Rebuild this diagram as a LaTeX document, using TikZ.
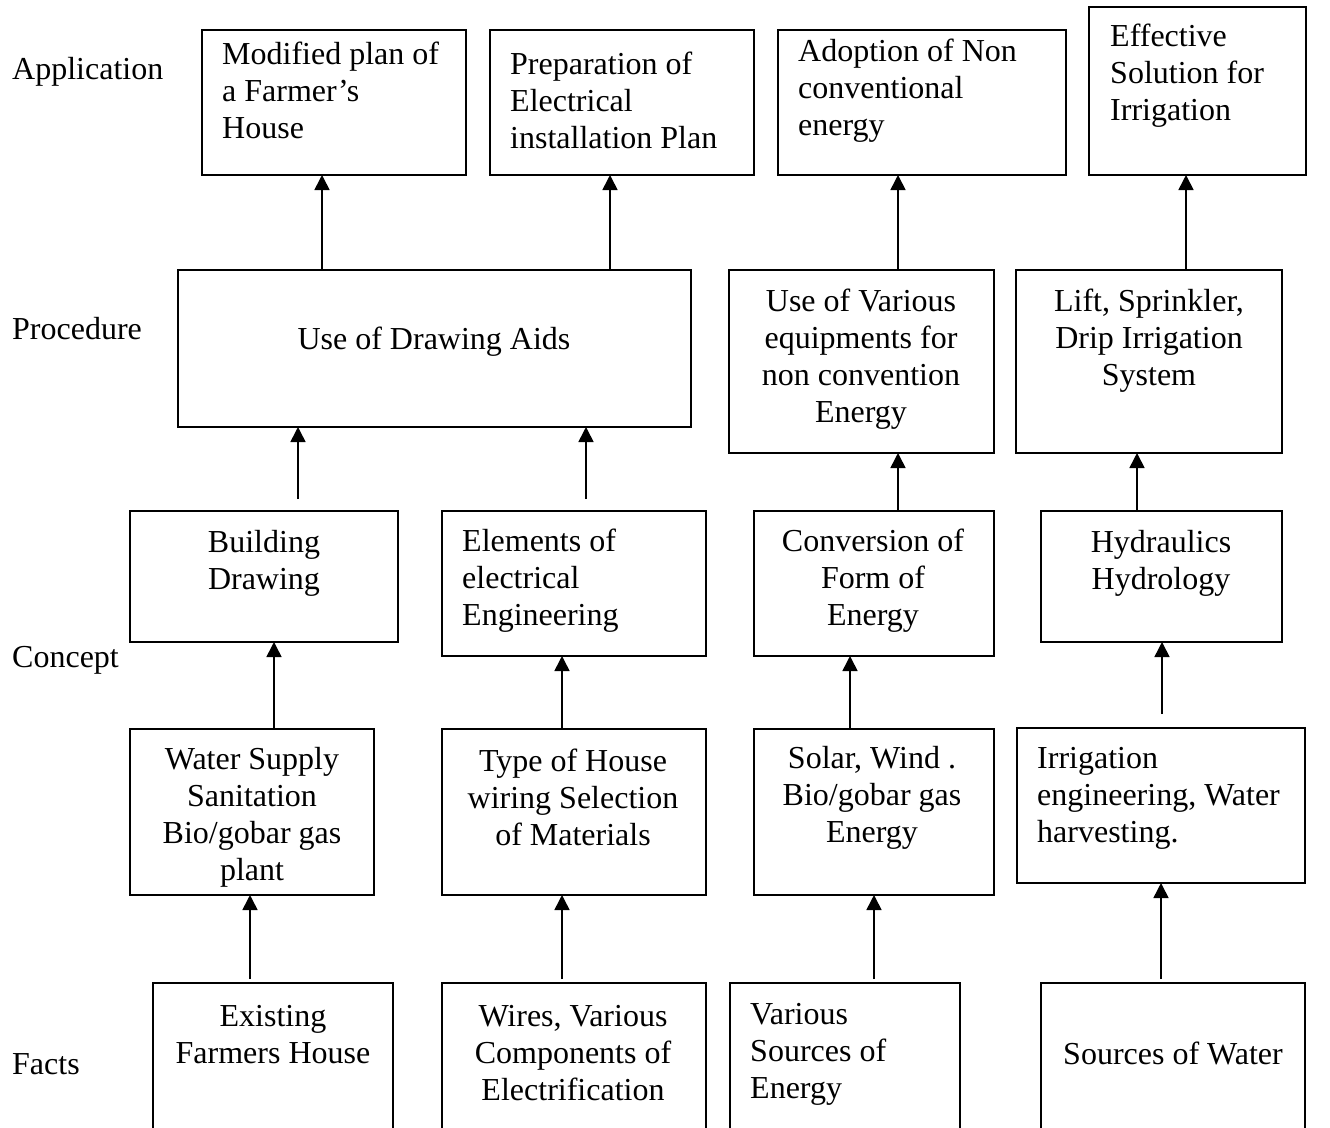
\documentclass[tikz,border=0pt]{standalone}
\usepackage{fontspec}
\setmainfont{Liberation Serif}
\usetikzlibrary{arrows.meta}
\begin{document}
\begin{tikzpicture}[x=1pt,y=-1pt,
  box/.style={draw,line width=1.7pt,inner sep=0pt,outer sep=0pt,anchor=north west},
  txt/.style={inner sep=0pt,yshift=-2pt,font=\fontsize{32}{37}\selectfont},
  ctxt/.style={txt,align=center},
  ltxt/.style={txt,align=left,anchor=west},
  arr/.style={line width=1.6pt,-{Triangle[width=15pt,length=15pt]}}]
\useasboundingbox (0,0) rectangle (1330,1127);
\clip (0,0) rectangle (1330,1127);
% row labels
\node[txt,anchor=west] (lapp) at (12,70) {Application};
\node[txt,anchor=west] (lpro) at (12,327) {Procedure};
\node[txt,anchor=west] (lcon) at (12,658) {Concept};
\node[txt,anchor=west] (lfac) at (12,1062) {Facts};
% application
\node[box,minimum width=264pt,minimum height=145pt] (a1) at (202,30) {};
\node[box,minimum width=264pt,minimum height=145pt] (a2) at (490,30) {};
\node[box,minimum width=288pt,minimum height=145pt] (a3) at (778,30) {};
\node[box,minimum width=217pt,minimum height=168pt] (a4) at (1089,7) {};
\node[ltxt] (a1t) at (222,88) {Modified plan of\\a Farmer’s\\House};
\node[ltxt] (a2t) at (510,98) {Preparation of\\Electrical\\installation Plan};
\node[ltxt] (a3t) at (798,89) {Adoption of Non\\conventional\\energy};
\node[ltxt] (a4t) at (1110,74) {Effective\\Solution for\\Irrigation};
% procedure
\node[box,minimum width=513pt,minimum height=157pt] (p1) at (178,270) {};
\node[box,minimum width=265pt,minimum height=183pt] (p2) at (729,270) {};
\node[box,minimum width=266pt,minimum height=183pt] (p3) at (1016,270) {};
\node[ctxt] (p1t) at (434,340) {Use of Drawing Aids};
\node[ctxt] (p2t) at (861,357) {Use of Various\\equipments for\\non convention\\Energy};
\node[ctxt] (p3t) at (1149,339) {Lift, Sprinkler,\\Drip Irrigation\\System};
% concept
\node[box,minimum width=268pt,minimum height=131pt] (c1) at (130,511) {};
\node[box,minimum width=264pt,minimum height=145pt] (c2) at (442,511) {};
\node[box,minimum width=240pt,minimum height=145pt] (c3) at (754,511) {};
\node[box,minimum width=241pt,minimum height=131pt] (c4) at (1041,511) {};
\node[ctxt] (c1t) at (264,561) {Building\\Drawing};
\node[ltxt] (c2t) at (462,579) {Elements of\\electrical\\Engineering};
\node[ctxt] (c3t) at (873,579) {Conversion of\\Form of\\Energy};
\node[ctxt] (c4t) at (1161,561) {Hydraulics\\Hydrology};
% middle
\node[box,minimum width=244pt,minimum height=166pt] (m1) at (130,729) {};
\node[box,minimum width=264pt,minimum height=166pt] (m2) at (442,729) {};
\node[box,minimum width=240pt,minimum height=166pt] (m3) at (754,729) {};
\node[box,minimum width=288pt,minimum height=155pt] (m4) at (1017,728) {};
\node[ctxt] (m1t) at (252,815) {Water Supply\\Sanitation\\Bio/gobar gas\\plant};
\node[ctxt] (m2t) at (573,795) {Type of House\\wiring Selection\\of Materials};
\node[ctxt] (m3t) at (872,796) {Solar, Wind .\\Bio/gobar gas\\Energy};
\node[ltxt] (m4t) at (1037,796) {Irrigation\\engineering, Water\\harvesting.};
% facts
\node[box,minimum width=240pt,minimum height=170pt] (f1) at (153,983) {};
\node[box,minimum width=264pt,minimum height=170pt] (f2) at (442,983) {};
\node[box,minimum width=230pt,minimum height=170pt] (f3) at (730,983) {};
\node[box,minimum width=264pt,minimum height=170pt] (f4) at (1041,983) {};
\node[ctxt] (f1t) at (273,1033) {Existing\\Farmers House};
\node[ctxt] (f2t) at (573,1051) {Wires, Various\\Components of\\Electrification};
\node[ltxt] (f3t) at (750,1052) {Various\\Sources of\\Energy};
\node[ctxt] (f4t) at (1173,1051) {Sources of Water};
% free arrow starts
\coordinate (u1) at (298,499);
\coordinate (u2) at (586,499);
\coordinate (u3) at (1162,714);
\coordinate (s1) at (250,979);
\coordinate (s2) at (562,979);
\coordinate (s3) at (874,979);
\coordinate (s4) at (1161,979);
% arrows
\draw[arr] (s1) -- (s1 |- m1.south);
\draw[arr] (s2) -- (s2 |- m2.south);
\draw[arr] (s3) -- (s3 |- m3.south);
\draw[arr] (s4) -- (s4 |- m4.south);
\draw[arr] (274,0 |- m1.north) -- (274,0 |- c1.south);
\draw[arr] (562,0 |- m2.north) -- (562,0 |- c2.south);
\draw[arr] (850,0 |- m3.north) -- (850,0 |- c3.south);
\draw[arr] (u3) -- (u3 |- c4.south);
\draw[arr] (u1) -- (u1 |- p1.south);
\draw[arr] (u2) -- (u2 |- p1.south);
\draw[arr] (898,0 |- c3.north) -- (898,0 |- p2.south);
\draw[arr] (1137,0 |- c4.north) -- (1137,0 |- p3.south);
\draw[arr] (322,0 |- p1.north) -- (322,0 |- a1.south);
\draw[arr] (610,0 |- p1.north) -- (610,0 |- a2.south);
\draw[arr] (898,0 |- p2.north) -- (898,0 |- a3.south);
\draw[arr] (1186,0 |- p3.north) -- (1186,0 |- a4.south);
\end{tikzpicture}
\end{document}
